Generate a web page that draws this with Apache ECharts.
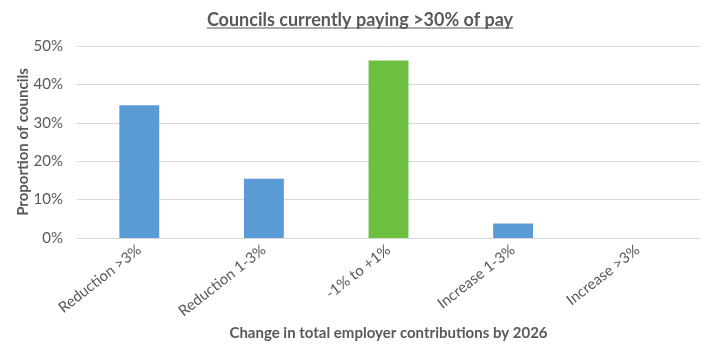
<!DOCTYPE html>
<html>
<head>
<meta charset="utf-8">
<script src="https://cdn.jsdelivr.net/npm/echarts@6/dist/echarts.min.js"></script>
<style>
  html, body { margin: 0; padding: 0; background: #fff; }
  #chart { width: 720px; height: 354px; }
</style>
</head>
<body>
<div id="chart"></div>
<script>
// data
const categories = ['Reduction >3%', 'Reduction 1-3%', '-1% to +1%', 'Increase 1-3%', 'Increase >3%']
const shares = [34.6, 15.4, 46.2, 3.8, 0]
const highlight = 2   // the green bar
const yTicks = [0, 10, 20, 30, 40, 50]

const font = 'Lato, "Open Sans", sans-serif'
const grey = '#595959'

const chart = echarts.init(document.getElementById('chart'))

const option = {
    animation: false,
    textStyle: { fontFamily: font },
    title: {
        text: 'Councils currently paying >30% of pay',
        left: 'center',
        top: 6,
        textStyle: { fontSize: 18, fontWeight: 'bold', color: grey, fontFamily: font }
    },
    grid: { left: 77, right: 20, top: 46, bottom: 116 },
    xAxis: {
        type: 'category',
        data: categories,
        name: 'Change in total employer contributions by 2026',
        nameLocation: 'middle',
        nameGap: 86,
        nameTextStyle: { fontSize: 15, fontWeight: 'bold', color: grey },
        axisTick: { show: false },
        axisLine: { lineStyle: { color: '#d9d9d9' } },
        axisLabel: { rotate: 38, fontSize: 15, color: grey, margin: 10 }
    },
    yAxis: {
        type: 'value',
        min: yTicks[0],
        max: yTicks[yTicks.length - 1],
        interval: 10,
        name: 'Proportion of councils',
        nameLocation: 'middle',
        nameGap: 46,
        nameMoveOverlap: false,
        nameTextStyle: { fontSize: 15, fontWeight: 'bold', color: grey },
        axisLabel: { formatter: '{value}%', fontSize: 15, color: grey, margin: 14 },
        splitLine: { lineStyle: { color: '#d9d9d9' } }
    },
    series: [{
        type: 'bar',
        barWidth: '32%',
        data: shares.map((v, i) => ({
            value: v,
            itemStyle: { color: i === highlight ? '#6DC03F' : '#5B9BD5' }
        }))
    }]
}

chart.setOption(option)

// Excel-style underline under the title
const ctx = document.createElement('canvas').getContext('2d')
ctx.font = 'bold 18px ' + font
const w = ctx.measureText(option.title.text).width
chart.setOption({
    graphic: [{
        type: 'line',
        shape: { x1: 360 - w / 2, y1: 28, x2: 360 + w / 2, y2: 28 },
        style: { stroke: grey, lineWidth: 1.2 },
        silent: true
    }]
})
</script>
</body>
</html>
